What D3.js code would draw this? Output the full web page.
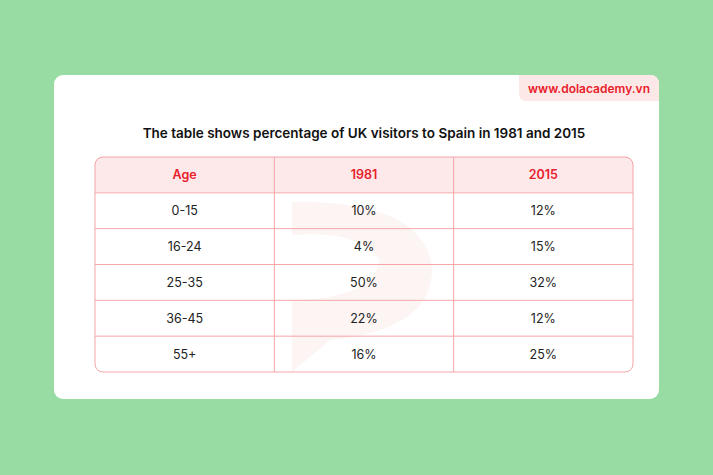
<!DOCTYPE html><html><head><meta charset="utf-8"><script src="https://cdn.jsdelivr.net/npm/d3@7"></script>
<style>body{margin:0;background:#98dba3}</style></head><body><script>
const headers=["Age","1981","2015"];
const ages=["0-15","16-24","25-35","36-45","55+"];
const v1981=["10%","4%","50%","22%","16%"];
const v2015=["12%","15%","32%","12%","25%"];
const W=713,H=475;
const svg=d3.select("body").append("svg").attr("width",W).attr("height",H);
svg.append("rect").attr("width",W).attr("height",H).attr("fill","#98dba3");
svg.append("rect").attr("x",54).attr("y",75).attr("width",605).attr("height",324).attr("rx",9).attr("fill","#fff");
svg.append("path").attr("d","M519,75 H650 Q659,75 659,84 V101 H527 Q519,101 519,93 Z").attr("fill","#fde8e8");
svg.append("text").attr("x",589).attr("y",93).attr("text-anchor","middle").attr("font-family","Inter").attr("font-weight",600).attr("font-size",12).attr("fill","#e8202a").text("www.dolacademy.vn");
svg.append("text").attr("x",364).attr("y",138).attr("text-anchor","middle").attr("font-family","Inter").attr("font-weight",600).attr("font-size",13.5).attr("fill","#111").text("The table shows percentage of UK visitors to Spain in 1981 and 2015");
// watermark
svg.append("path").attr("d","M292,202 Q420,200 432,265 Q435,330 330,340 L292,372 Z M292,300 Q370,300 380,260 Q360,230 292,235 Z").attr("fill","#fdf4f4").attr("fill-rule","evenodd");
const x=d3.scaleBand().domain(headers).range([95,633]);
const y=d3.scaleBand().domain(d3.range(6)).range([157,372]);
const g=svg.append("g");
g.append("path").attr("d","M95,192 V165 Q95,157 103,157 H625 Q633,157 633,165 V192 Z").attr("fill","#fde8ea");
const rows=ages.map((a,i)=>[a,v1981[i],v2015[i]]);
const all=[headers,...rows];
all.forEach((r,i)=>r.forEach((t,j)=>{
 g.append("text").attr("x",x(headers[j])+x.bandwidth()/2).attr("y",y(i)+y.bandwidth()/2+4.5)
  .attr("text-anchor","middle").attr("font-family","Inter").attr("font-size",12.5)
  .attr("font-weight",i==0?600:400).attr("fill",i==0?"#e8202a":"#222").text(t);
}));
for(let i=1;i<6;i++) g.append("line").attr("x1",95).attr("x2",633).attr("y1",y(i)).attr("y2",y(i)).attr("stroke","#f6a5a8");
headers.slice(1).forEach(h=>g.append("line").attr("x1",x(h)).attr("x2",x(h)).attr("y1",157).attr("y2",372).attr("stroke","#f6a5a8"));
g.append("rect").attr("x",95).attr("y",157).attr("width",538).attr("height",215).attr("rx",8).attr("fill","none").attr("stroke","#f6a5a8");
</script></body></html>
